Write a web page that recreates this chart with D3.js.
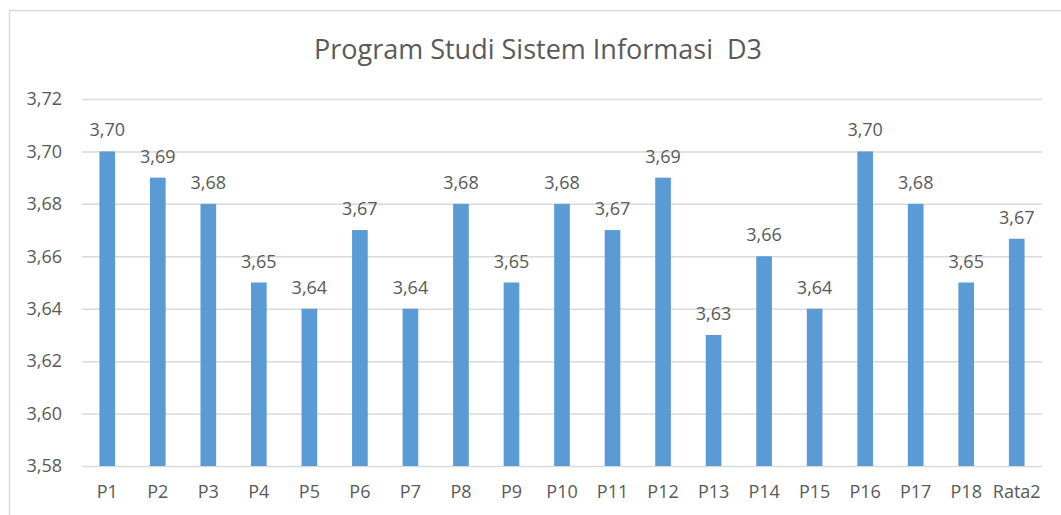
<!DOCTYPE html>
<html>
<head>
<meta charset="utf-8">
<script src="https://cdn.jsdelivr.net/npm/d3@7"></script>
<style>
	body { margin: 0; background: #fff; }
	text { font-family: "Open Sans", "Noto Sans", sans-serif; fill: #595959; }
</style>
</head>
<body>
<div id="chart"></div>
<script>
var categories = ["P1","P2","P3","P4","P5","P6","P7","P8","P9","P10","P11","P12","P13","P14","P15","P16","P17","P18","Rata2"];
var values = [3.70,3.69,3.68,3.65,3.64,3.67,3.64,3.68,3.65,3.68,3.67,3.69,3.63,3.66,3.64,3.70,3.68,3.65,3.6667];
var yTicks = [3.58,3.60,3.62,3.64,3.66,3.68,3.70,3.72];
var title = "Program Studi Sistem Informasi  D3";

var width = 1061, height = 515;
var plotLeft = 82, plotRight = 1042, plotTop = 99, plotBottom = 466;
var fmt = function(v) { return d3.format(".2f")(v).replace(".", ","); };

var svg = d3.select("#chart").append("svg").attr("width", width).attr("height", height);

// frame of the chart area
svg.append("path")
	.attr("d", "M9.5," + height + "V10.5H" + width)
	.attr("fill", "none").attr("stroke", "#d9d9d9").attr("stroke-width", 1.5);

var x = d3.scaleBand().domain(categories).range([plotLeft, plotRight]).paddingInner(0.69).paddingOuter(0.345);
var y = d3.scaleLinear().domain([3.58, 3.72]).range([plotBottom, plotTop]);

// gridlines + y labels
var yAxis = d3.axisLeft(y).tickValues(yTicks).tickFormat(fmt).tickSize(-(plotRight - plotLeft)).tickPadding(20);
var gy = svg.append("g").attr("transform", "translate(" + plotLeft + ",0)").call(yAxis);
gy.select(".domain").remove();
gy.selectAll("line").attr("stroke", "#d9d9d9").attr("stroke-width", 1.5);
gy.selectAll("text").attr("font-size", 18).style("font-family", "\"Open Sans\", sans-serif").attr("fill", "#595959");

// bars
svg.selectAll(".bar").data(values).enter().append("rect")
	.attr("class", "bar")
	.attr("x", function(d, i) { return x(categories[i]); })
	.attr("width", x.bandwidth())
	.attr("y", function(d) { return y(d); })
	.attr("height", function(d) { return y(3.58) - y(d); })
	.attr("fill", "#5b9bd5");

// value labels
svg.selectAll(".lbl").data(values).enter().append("text")
	.attr("class", "lbl")
	.attr("x", function(d, i) { return x(categories[i]) + x.bandwidth() / 2; })
	.attr("y", function(d) { return y(d) - 15; })
	.attr("text-anchor", "middle")
	.attr("font-size", 18)
	.text(fmt);

// x labels
var xAxis = d3.axisBottom(x).tickSize(0).tickPadding(19);
var gx = svg.append("g").attr("transform", "translate(0," + plotBottom + ")").call(xAxis);
gx.select(".domain").remove();
gx.selectAll("text").attr("font-size", 18).style("font-family", "\"Open Sans\", sans-serif").attr("fill", "#595959");

// title
svg.append("text")
	.attr("x", 538).attr("y", 59)
	.attr("text-anchor", "middle")
	.attr("font-size", 27)
	.style("white-space", "pre")
	.text(title);
</script>
</body>
</html>
